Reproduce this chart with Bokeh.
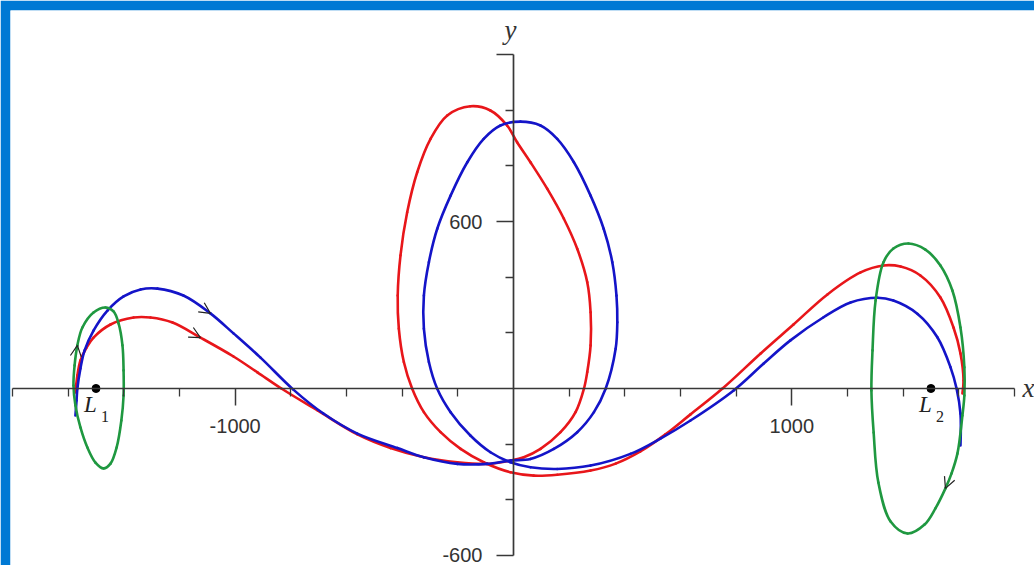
import math

from bokeh.plotting import figure
from bokeh.models import (Range1d, LinearAxis, FixedTicker, ColumnDataSource,
                          Arrow, OpenHead)
from bokeh.core.properties import value
from bokeh.embed import file_html
from bokeh.resources import INLINE

# ---- trajectories (x, y) ----
blue_x = [-1574, -1570, -1567, -1556, -1541, -1509, -1459, -1401, -1340, -1279,
          -1186, -1089, -1006, -909, -791, -683, -561, -417, -322, -202,
          -95, -11, 61, 145, 229, 289, 331, 367, 373, 370,
          355, 324, 277, 217, 157, 97, 25, -47, -107, -166,
          -226, -274, -304, -322, -322, -304, -274, -226, -155, -83,
          -11, 61, 157, 277, 420, 528, 636, 791, 898, 995,
          1114, 1211, 1308, 1365, 1452, 1523, 1570, 1592, 1606, 1606]
blue_y = [-97, -43, 0, 72, 137, 208, 280, 331, 356, 359,
          334, 270, 198, 111, -4, -90, -162, -214, -247, -271,
          -271, -259, -253, -217, -157, -85, -1, 143, 238, 334,
          454, 574, 693, 813, 897, 945, 959, 945, 897, 813,
          693, 574, 454, 334, 215, 95, -1, -85, -169, -229,
          -265, -283, -289, -277, -235, -180, -115, -7, 89, 173,
          256, 309, 326, 316, 268, 184, 77, 0, -90, -205]

red_x = [-1574, -1567, -1556, -1534, -1509, -1448, -1365, -1304, -1225, -1125,
         -1006, -920, -834, -704, -561, -442, -322, -202, -95, -11,
         37, 97, 169, 223, 253, 265, 277, 277, 265, 229,
         181, 121, 61, 13, -23, -83, -155, -238, -298, -346,
         -382, -406, -416, -412, -394, -364, -322, -262, -190, -107,
         -11, 73, 157, 277, 367, 456, 546, 636, 751, 888,
         1006, 1128, 1247, 1329, 1391, 1462, 1534, 1581, 1606, 1617,
         1613]
red_y = [-14, 47, 101, 147, 183, 230, 255, 255, 237, 183,
         115, 58, 0, -79, -165, -214, -247, -265, -271, -259,
         -247, -217, -157, -85, -1, 59, 155, 274, 382, 502,
         610, 718, 813, 885, 945, 999, 1014, 981, 897, 777,
         633, 478, 334, 215, 95, -1, -85, -157, -217, -265,
         -301, -313, -310, -295, -270, -226, -165, -93, 0, 126,
         230, 338, 417, 442, 438, 406, 327, 219, 126, 29,
         -18]

# periodic orbits around the two libration points
halo1_x = [-1473, -1502, -1531, -1556, -1574, -1581, -1577, -1567, -1549, -1509,
           -1466, -1437, -1419, -1405, -1401, -1401, -1409, -1426, -1448]
halo1_y = [-287, -266, -212, -140, -61, 11, 83, 155, 219, 273,
           291, 277, 234, 155, 65, -25, -115, -212, -270]

halo2_x = [1419, 1480, 1534, 1577, 1606, 1620, 1620, 1613, 1595, 1574,
           1552, 1516, 1477, 1416, 1355, 1311, 1294, 1286, 1290, 1301,
           1329, 1365]
halo2_y = [521, 499, 442, 352, 219, 76, -25, -97, -234, -305,
           -359, -431, -489, -521, -478, -338, -158, -7, 137, 316,
           453, 503]

# libration points
lib_x = [-1500, 1500]
lib_y = [0, 0]
lib_sub = ["1", "2"]

# axes
x_major = [-1000, 1000]
x_minor = [-1800, -1600, -1400, -1200, -800, -600, -400, -200,
           200, 400, 600, 800, 1200, 1400, 1600, 1800]
y_major = [-600, 600, 1200]
y_minor = [-400, -200, 200, 400, 800, 1000]

# direction markers: (curve, index of arrow tip)
arrow_marks = [("blue", 11), ("red", 9), ("halo1", 7), ("halo2", 10)]

RED = "#E8161A"
BLUE = "#1414C8"
GREEN = "#1F9840"
FRAME = "#0079D4"
AXIS = "#383838"


def bezier_segments(xs, ys, closed):
    """Centripetal Catmull-Rom through the points, as cubic Bezier pieces."""
    n = len(xs)
    pts = list(zip(xs, ys))

    def at(i):
        if closed:
            return pts[i % n]
        return pts[min(max(i, 0), n - 1)]

    def dist(a, b):
        return math.hypot(b[0] - a[0], b[1] - a[1])

    count = n if closed else n - 1
    seg = dict(x0=[], y0=[], x1=[], y1=[], cx0=[], cy0=[], cx1=[], cy1=[])
    for i in range(count):
        p0, p1, p2, p3 = at(i - 1), at(i), at(i + 1), at(i + 2)
        d1, d2, d3 = (dist(p0, p1) ** 0.5, dist(p1, p2) ** 0.5, dist(p2, p3) ** 0.5)
        if d1 == 0:
            c1 = p1
        else:
            a, b = d1 * d1, d2 * d2
            den = 3 * d1 * (d1 + d2)
            c1 = tuple((a * p2[k] - b * p0[k] + (2 * a + 3 * d1 * d2 + b) * p1[k]) / den
                       for k in (0, 1))
        if d3 == 0:
            c2 = p2
        else:
            a, b = d3 * d3, d2 * d2
            den = 3 * d3 * (d3 + d2)
            c2 = tuple((a * p1[k] - b * p3[k] + (2 * a + 3 * d3 * d2 + b) * p2[k]) / den
                       for k in (0, 1))
        seg["x0"].append(p1[0]); seg["y0"].append(p1[1])
        seg["x1"].append(p2[0]); seg["y1"].append(p2[1])
        seg["cx0"].append(c1[0]); seg["cy0"].append(c1[1])
        seg["cx1"].append(c2[0]); seg["cy1"].append(c2[1])
    return ColumnDataSource(seg)


p = figure(width=1034, height=565, output_backend="svg", toolbar_location=None,
           x_range=Range1d(-1807.3, 1872.0), y_range=Range1d(-636.0, 1358.2),
           x_axis_type=None, y_axis_type=None,
           min_border_left=10, min_border_top=10,
           min_border_right=0, min_border_bottom=0,
           border_fill_color=FRAME, background_fill_color="white",
           outline_line_color=None)

xaxis = LinearAxis(fixed_location=0, bounds=(-1800, 1800),
                   ticker=FixedTicker(ticks=x_major, minor_ticks=x_minor),
                   major_label_overrides={t: str(t) for t in x_major})
yaxis = LinearAxis(fixed_location=0, bounds=(-600, 1200),
                   ticker=FixedTicker(ticks=y_major, minor_ticks=y_minor),
                   major_label_overrides={-600: "-600", 600: "600", 1200: ""})
for ax, standoff in ((xaxis, 14), (yaxis, 14)):
    ax.axis_line_color = AXIS
    ax.axis_line_width = 1.7
    ax.major_tick_line_color = AXIS
    ax.major_tick_line_width = 1.5
    ax.minor_tick_line_color = AXIS
    ax.minor_tick_line_width = 1.3
    ax.major_tick_out = 17
    ax.major_tick_in = 0
    ax.minor_tick_out = 8
    ax.minor_tick_in = 0
    ax.major_label_standoff = standoff
    ax.major_label_text_font = "Liberation Sans"
    ax.major_label_text_font_size = "20px"
    ax.major_label_text_color = "#333333"
p.add_layout(xaxis, "below")
p.add_layout(yaxis, "left")

curves = {
    "red": (red_x, red_y, RED, False),
    "blue": (blue_x, blue_y, BLUE, False),
    "halo1": (halo1_x, halo1_y, GREEN, True),
    "halo2": (halo2_x, halo2_y, GREEN, True),
}
for name, (xs, ys, col, closed) in curves.items():
    p.bezier(x0="x0", y0="y0", x1="x1", y1="y1", cx0="cx0", cy0="cy0",
             cx1="cx1", cy1="cy1", source=bezier_segments(xs, ys, closed),
             line_color=col, line_width=2.6, line_cap="round")

for name, i in arrow_marks:
    xs, ys = curves[name][0], curves[name][1]
    p.add_layout(Arrow(end=OpenHead(size=11, line_color="#222222", line_width=1.2),
                       x_start=xs[i - 1], y_start=ys[i - 1],
                       x_end=xs[i], y_end=ys[i], line_alpha=0))

p.scatter(x=lib_x, y=lib_y, size=8, color="black")
p.text(x=lib_x, y=lib_y, text=["L", "L"], x_offset=-12, y_offset=4,
       text_align="left", text_baseline="top",
       text_font=value("Liberation Serif"), text_font_style="italic",
       text_font_size="23px", text_color="#222222")
p.text(x=lib_x, y=lib_y, text=lib_sub, x_offset=5, y_offset=23,
       text_align="left", text_baseline="top",
       text_font=value("Liberation Serif"),
       text_font_size="16px", text_color="#222222")

# axis names
p.text(x=[x_minor[-1]], y=[0], text=["x"], x_offset=8, y_offset=0,
       text_align="left", text_baseline="middle",
       text_font=value("Liberation Serif"), text_font_style="italic",
       text_font_size="27px", text_color="#333333")
p.text(x=[0], y=[y_major[-1]], text=["y"], x_offset=-3, y_offset=-25,
       text_align="center", text_baseline="alphabetic",
       text_font=value("Liberation Serif"), text_font_style="italic",
       text_font_size="27px", text_color="#333333")

open("out.html", "w").write(file_html(p, INLINE))
